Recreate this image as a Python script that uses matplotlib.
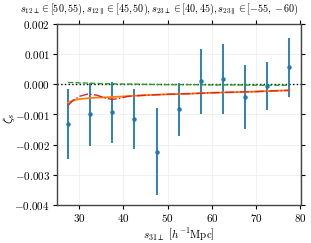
import numpy as np
import matplotlib
matplotlib.use("Agg")
import matplotlib.pyplot as plt
from matplotlib.ticker import FuncFormatter

plt.rcParams["mathtext.fontset"] = "cm"
plt.rcParams["font.family"] = "serif"
plt.rcParams["font.serif"] = ["DejaVu Serif"]
plt.rcParams["font.size"] = 8

# measured points
s31 = [27.5, 32.5, 37.5, 42.5, 47.5, 52.5, 57.5, 62.5, 67.5, 72.5, 77.5]
zeta = [-0.00131, -0.00099, -0.00093, -0.00114, -0.00223, -0.00082,
        0.00010, 0.00017, -0.00042, -0.00006, 0.00056]
zeta_err = [0.00117, 0.00105, 0.00101, 0.00100, 0.00145, 0.00088,
            0.00108, 0.00116, 0.00107, 0.00080, 0.00097]

# model curves
s_model = [27.5, 28.5, 30, 32, 34, 36, 37.5, 39, 41, 45, 50, 55, 60, 65, 70, 75, 77.5]
orange_model = [-0.00060, -0.00054, -0.00049, -0.00046, -0.00044, -0.00043, -0.00042,
                -0.00041, -0.00039, -0.00036, -0.00033, -0.00031, -0.00028,
                -0.00026, -0.00024, -0.00021, -0.00020]
red_model = [-0.00070, -0.00055, -0.00040, -0.00032, -0.00036, -0.00046, -0.00050,
             -0.00047, -0.00040, -0.00036, -0.00033, -0.00031, -0.00028,
             -0.00026, -0.00024, -0.00021, -0.00020]
green_model = [0.00006, 0.00006, 0.00005, 0.00004, 0.00003, 0.00002, 0.00002,
               0.00001, 0.00001, 0.00000, -0.00001, -0.00001, -0.00002,
               -0.00002, -0.00003, -0.00003, -0.00003]

title = (r"$s_{12\perp}\in[50,55),s_{12\parallel}\in[45,50),"
         r"s_{23\perp}\in[40,45),s_{23\parallel}\in[-55,-60)$")

fig = plt.figure(figsize=(3.11, 2.43), dpi=100)
ax = fig.add_axes([57/311, 1 - 205/243, 243.5/311, 181/243])

ax.grid(True, color="#eeeeee", lw=0.6)
ax.set_axisbelow(True)

ax.axhline(0, color="k", ls=":", lw=1.0)
ax.errorbar(s31, zeta, yerr=zeta_err, fmt="o", color="#1f77b4", ms=2.2,
            elinewidth=1.3, capsize=0)
ax.plot(s_model, green_model, color="#2ca02c", ls="--", lw=1.0)
ax.plot(s_model, orange_model, color="#ff7f0e", ls="-", lw=1.3)
ax.plot(s_model, red_model, color="#d62728", ls="-.", lw=1.0)

ax.set_xlim(25, 80)
ax.set_ylim(-0.004, 0.002)
ax.set_xticks([30, 40, 50, 60, 70, 80])
ax.set_yticks(np.arange(-0.004, 0.0021, 0.001))
ax.xaxis.set_major_formatter(FuncFormatter(lambda v, p: r"$%d$" % v))
ax.yaxis.set_major_formatter(FuncFormatter(lambda v, p: r"$%.3f$" % (v + 0.0)))
ax.tick_params(top=True, right=True, direction="out", length=3, width=0.8,
               labelsize=8, pad=2)
for sp in ax.spines.values():
    sp.set_color("#444444")
    sp.set_linewidth(1.0)

ax.set_xlabel(r"$s_{31\perp}\ \left[h^{-1}\mathrm{Mpc}\right]$", fontsize=8, labelpad=2)
ax.set_ylabel(r"$\zeta_s$", fontsize=9)
ax.yaxis.set_label_coords(-0.165, 0.48)
fig.text(159/311, 1 - 9/243, title, fontsize=7.3, ha="center", va="center")

fig.savefig("out.png", dpi=100)
